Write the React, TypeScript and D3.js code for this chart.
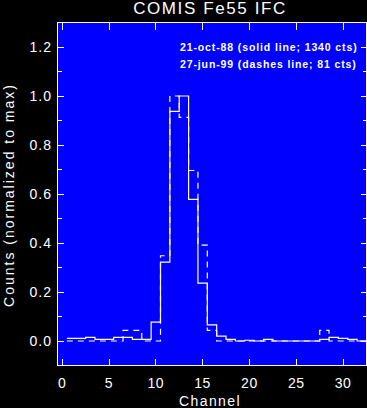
import React from "react";
import * as d3 from "d3";

const channels = [1, 2, 3, 4, 5, 6, 7, 8, 9, 10, 11, 12, 13, 14, 15, 16, 17, 18, 19, 20, 21, 22, 23, 24, 25, 26, 27, 28, 29, 30, 31, 32];
// 21-oct-88, solid line, 1340 cts (normalized to max)
const solidValues = [0.011, 0.011, 0.015, 0.007, 0.007, 0.015, 0.015, 0.007, 0.007, 0.077, 0.322, 0.937, 1.0, 0.578, 0.236, 0.066, 0.02, 0.007, 0.0, 0.003, 0.0, 0.007, 0.0, 0.0, 0.0, 0.0, 0.0, 0.007, 0.015, 0.011, 0.007, 0.0];
// 27-jun-99, dashed line, 81 cts (normalized to max)
const dashedValues = [0, 0, 0, 0, 0, 0, 0.043, 0.043, 0, 0, 0.348, 1.0, 0.913, 0.696, 0.391, 0.043, 0, 0, 0, 0, 0, 0, 0, 0, 0, 0, 0, 0.043, 0, 0, 0, 0];

const xTicks = [0, 5, 10, 15, 20, 25, 30];
const yMajorTicks = [0, 0.2, 0.4, 0.6, 0.8, 1.0, 1.2];
const yMinorTicks = [0.1, 0.3, 0.5, 0.7, 0.9, 1.1];
const yTickLabels = ["0.0", "0.2", "0.4", "0.6", "0.8", "1.0", "1.2"];

const titleText = "COMIS Fe55 IFC";
const legendLines = ["21-oct-88 (solid line; 1340 cts)", "27-jun-99 (dashes line; 81 cts)"];
const xLabel = "Channel";
const yLabel = "Counts (normalized to max)";

const W = 367;
const H = 408;
const L = 57.5, R = 366.5, T = 22.5, B = 365.5;
const FONT = "'Liberation Sans', Arial, sans-serif";

export default function App() {
  const x = d3.scaleLinear().domain([-0.5, 32.5]).range([L, R]);
  const y = d3.scaleLinear().domain([-0.1, 1.3]).range([B, T]);

  const stepPts = (vals: number[]) => {
    const pts: [number, number][] = channels.map((c, i) => [c - 0.5, vals[i]]);
    pts.push([channels[channels.length - 1] + 0.5, vals[vals.length - 1]]);
    return pts;
  };
  const line = d3
    .line<[number, number]>()
    .x((d) => x(d[0]))
    .y((d) => y(d[1]))
    .curve(d3.curveStepAfter);

  const majLen = 7;
  const minLen = 4;

  return (
    <svg
      width={W}
      height={H}
      style={{ position: "absolute", left: 0, top: 0, background: "#000" }}
    >
      <rect x={0} y={0} width={W} height={H} fill="#000" />
      <rect x={L} y={T} width={R - L} height={B - T} fill="#0000ff" />
      <defs>
        <clipPath id="plotclip">
          <rect x={L} y={T} width={R - L} height={B - T} />
        </clipPath>
      </defs>
      <g clipPath="url(#plotclip)" fill="none" stroke="#fff" strokeWidth={1.2}>
        <path d={line(stepPts(solidValues)) || ""} />
        <path d={line(stepPts(dashedValues)) || ""} strokeDasharray="6,5" />
      </g>
      <g stroke="#fff" strokeWidth={1} shapeRendering="crispEdges">
        <rect x={L} y={T} width={R - L} height={B - T} fill="none" />
        {xTicks.map((t) => (
          <g key={"xt" + t}>
            <line x1={x(t)} x2={x(t)} y1={B} y2={B - majLen} />
            <line x1={x(t)} x2={x(t)} y1={T} y2={T + majLen} />
          </g>
        ))}
        {yMajorTicks.map((t) => (
          <g key={"yt" + t}>
            <line x1={L} x2={L + 6} y1={y(t)} y2={y(t)} />
            <line x1={R} x2={R - 6} y1={y(t)} y2={y(t)} />
          </g>
        ))}
        {yMinorTicks.map((t) => (
          <g key={"ym" + t}>
            <line x1={L} x2={L + minLen} y1={y(t)} y2={y(t)} />
            <line x1={R} x2={R - minLen} y1={y(t)} y2={y(t)} />
          </g>
        ))}
      </g>
      <g fill="#fff" fontFamily={FONT}>
        <text x={210} y={14} fontSize={17} textAnchor="middle" letterSpacing={1.6}>
          {titleText}
        </text>
        {legendLines.map((s, i) => (
          <text key={s} x={180} y={51 + i * 17} fontSize={10.5} letterSpacing={0.88} fontWeight="bold">
            {s}
          </text>
        ))}
        {xTicks.map((t) => (
          <text key={"xl" + t} x={x(t)} y={387.5} fontSize={14} textAnchor="middle" letterSpacing={0.6}>
            {String(t)}
          </text>
        ))}
        {yMajorTicks.map((t, i) => (
          <text key={"yl" + t} x={52} y={y(t) + 5} fontSize={14} textAnchor="end" letterSpacing={1}>
            {yTickLabels[i]}
          </text>
        ))}
        <text x={210} y={406} fontSize={14} textAnchor="middle" letterSpacing={1.4}>
          {xLabel}
        </text>
        <text
          transform="translate(13.5,195) rotate(-90)"
          fontSize={14}
          textAnchor="middle"
          letterSpacing={2}
        >
          {yLabel}
        </text>
      </g>
    </svg>
  );
}
